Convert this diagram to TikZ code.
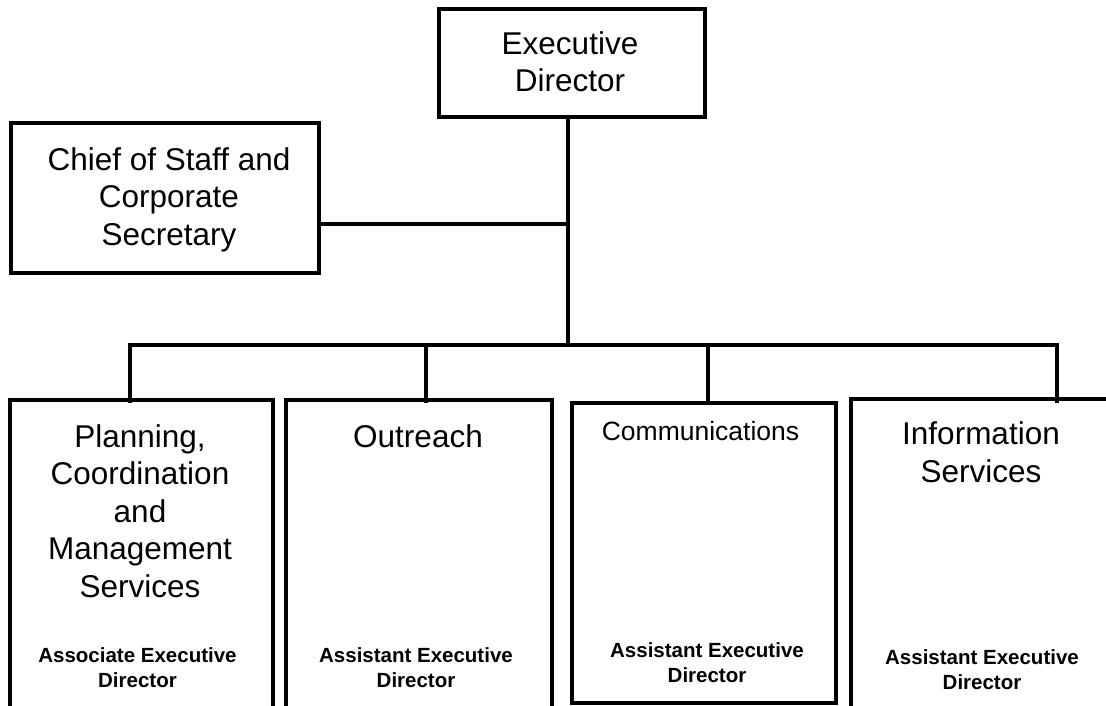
\documentclass[tikz,border=0pt]{standalone}
\usepackage{fontspec}
\setmainfont{Liberation Sans}
\usetikzlibrary{calc}

\begin{document}
\begin{tikzpicture}[x=1pt,y=-1pt,
  unit/.style={draw,line width=4pt,inner sep=0pt},
  link/.style={line width=3.2pt},
  title/.style={anchor=base,align=center,inner sep=0pt,font=\fontsize{31.5}{37.5}\selectfont},
  role/.style={anchor=base,align=center,inner sep=0pt,font=\fontsize{20.5}{24.5}\selectfont\bfseries}]
\clip (0,0) rectangle (1106,706);

%Shape: Rectangle (top)
\node[unit,minimum width=266,minimum height=108] (exec) at (572,63) {};
%Shape: Rectangle (left)
\node[unit,minimum width=308,minimum height=150] (chief) at (165,198) {};
%Shape: Rectangle (units, the bottom row runs off the page)
\node[unit,minimum width=263,minimum height=330] (plan) at (141.5,565) {};
\node[unit,minimum width=266,minimum height=330] (outreach) at (419,565) {};
\node[unit,minimum width=264,minimum height=300] (comms) at (704,553) {};
\node[unit,minimum width=289,minimum height=331] (info) at (995.5,564.5) {};

%Straight Lines
\coordinate (tap) at (568,224);
\coordinate (hub) at (568,345);
\coordinate (d1) at (130,345);
\coordinate (d2) at (426,345);
\coordinate (d3) at (708,345);
\coordinate (d4) at (1057,345);
\draw[link] (exec.south -| hub) -- (hub);
\draw[link] (tap -| chief.east) -- (tap);
\draw[link] ($(d1 |- plan.north)+(0,5)$) -- (d1) -- (d4) -- ($(d4 |- info.north)+(0,6)$);
\draw[link] (d2) -- ($(d2 |- outreach.north)+(0,5)$);
\draw[link] (d3) -- (d3 |- comms.north);

% Text Node (base = last line)
\node[title] (execT) at (570,92) {Executive\\Director};
% Text Node
\node[title] (chiefT) at (169,245) {Chief of Staff and\\Corporate\\Secretary};
% Text Node
\node[title] (planT) at (140,597) {Planning,\\Coordination\\and\\Management\\Services};
% Text Node
\node[title] (outreachT) at (418,447) {Outreach};
% Text Node
\node[title,font=\fontsize{26.5}{31}\selectfont] (commsT) at (700.5,440) {Communications};
% Text Node
\node[title] (infoT) at (981,482) {Information\\Services};

% Text Node
\node[role] (planR) at (137.5,687) {Associate Executive\\Director};
% Text Node
\node[role] (outreachR) at (416,687) {Assistant Executive\\Director};
% Text Node
\node[role] (commsR) at (707,682) {Assistant Executive\\Director};
% Text Node
\node[role] (infoR) at (982,689) {Assistant Executive\\Director};

\end{tikzpicture}
\end{document}
